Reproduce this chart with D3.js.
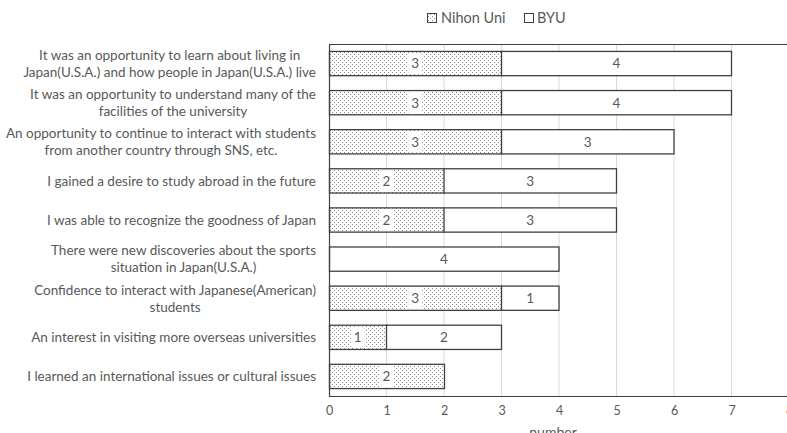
<!DOCTYPE html>
<html>
<head>
<meta charset="utf-8">
<script src="https://cdn.jsdelivr.net/npm/d3@7"></script>
<style>
  html, body { margin: 0; padding: 0; background: #fff; }
  svg { display: block; font-family: Lato, "Open Sans", sans-serif; }
</style>
</head>
<body>
<svg id="chart" width="787" height="433"></svg>
<script>
// Survey items (line breaks mark where each label wraps)
const categories = [
  "It was an opportunity to learn about living in\nJapan(U.S.A.) and how people in Japan(U.S.A.) live",
  "It was an opportunity to understand many of the\nfacilities of the university",
  "An opportunity to continue to interact with students\nfrom another country through SNS, etc.",
  "I gained a desire to study abroad in the future",
  "I was able to recognize the goodness of Japan",
  "There were new discoveries about the sports\nsituation in Japan(U.S.A.)",
  "Confidence to interact with Japanese(American)\nstudents",
  "An interest in visiting more overseas universities",
  "I learned an international issues or cultural issues"
];
const nihonUni = [3, 3, 3, 2, 2, 0, 3, 1, 2];
const byu      = [4, 4, 3, 3, 3, 4, 1, 2, 0];
const seriesNames = ["Nihon Uni", "BYU"];
const xTicks = [0, 1, 2, 3, 4, 5, 6, 7, 8];
const xTitle = "number";

const svg = d3.select("#chart");
const W = 787, H = 433;
const plot = { left: 329, right: 789, top: 44, bottom: 396 };

const textGrey = "#595959";
const edge = "#404040";

// Dotted fill for the Nihon Uni segments
const defs = svg.append("defs");
const pat = defs.append("pattern")
  .attr("id", "dots")
  .attr("patternUnits", "userSpaceOnUse")
  .attr("width", 4).attr("height", 4);
pat.append("rect").attr("width", 4).attr("height", 4).attr("fill", "#fff");
pat.append("rect").attr("x", 0).attr("y", 0).attr("width", 1).attr("height", 1).attr("fill", "#888");
pat.append("rect").attr("x", 2).attr("y", 2).attr("width", 1).attr("height", 1).attr("fill", "#888");

const x = d3.scaleLinear().domain([0, 8]).range([plot.left, plot.right]);
const y = d3.scaleBand().domain(d3.range(categories.length))
  .range([plot.top, plot.bottom]).paddingInner(0.38).paddingOuter(0.19);

// Vertical gridlines
svg.append("g").selectAll("line").data(xTicks.filter(t => t > 0)).join("line")
  .attr("x1", d => x(d)).attr("x2", d => x(d))
  .attr("y1", plot.top).attr("y2", plot.bottom)
  .attr("stroke", "#d9d9d9").attr("stroke-width", 1);

// Stacked data
const rows = categories.map((c, i) => ({ i, a: nihonUni[i], b: byu[i] }));

const bars = svg.append("g");
// Nihon Uni segments
bars.selectAll("rect.n").data(rows.filter(r => r.a > 0)).join("rect")
  .attr("class", "n")
  .attr("x", d => x(0) + 0.5).attr("y", d => y(d.i))
  .attr("width", d => x(d.a) - x(0)).attr("height", y.bandwidth())
  .attr("fill", "url(#dots)").attr("stroke", edge).attr("stroke-width", 1.3);
// BYU segments
bars.selectAll("rect.b").data(rows.filter(r => r.b > 0)).join("rect")
  .attr("class", "b")
  .attr("x", d => x(d.a) + (d.a === 0 ? 0.5 : 0)).attr("y", d => y(d.i))
  .attr("width", d => x(d.a + d.b) - x(d.a) - (d.a === 0 ? 0.5 : 0)).attr("height", y.bandwidth())
  .attr("fill", "#fff").attr("stroke", edge).attr("stroke-width", 1.3);

// Value labels
const lab = svg.append("g").attr("font-size", 13.5).attr("fill", textGrey).attr("text-anchor", "middle");
rows.filter(r => r.a > 0).forEach(r => {
  const cx = (x(0) + x(r.a)) / 2, cy = y(r.i) + y.bandwidth() / 2;
  lab.append("rect").attr("x", cx - 7).attr("y", y(r.i) + 1.5)
    .attr("width", 14).attr("height", y.bandwidth() - 3).attr("fill", "#fff");
  lab.append("text").attr("x", cx).attr("y", cy).attr("dy", "0.36em").text(r.a);
});
rows.filter(r => r.b > 0).forEach(r => {
  const cx = (x(r.a) + x(r.a + r.b)) / 2, cy = y(r.i) + y.bandwidth() / 2;
  lab.append("text").attr("x", cx).attr("y", cy).attr("dy", "0.36em").text(r.b);
});

// Plot frame: top, left and bottom lines
svg.append("line").attr("x1", plot.left).attr("x2", W).attr("y1", plot.top + 0.5).attr("y2", plot.top + 0.5)
  .attr("stroke", edge).attr("stroke-width", 1.2);
svg.append("line").attr("x1", plot.left).attr("x2", W).attr("y1", plot.bottom + 0.5).attr("y2", plot.bottom + 0.5)
  .attr("stroke", edge).attr("stroke-width", 1.2);
svg.append("line").attr("x1", plot.left + 0.5).attr("x2", plot.left + 0.5).attr("y1", plot.top).attr("y2", plot.bottom + 1)
  .attr("stroke", edge).attr("stroke-width", 1.2);

// X axis tick labels
const xAxis = d3.axisBottom(x).tickValues(xTicks).tickSize(0).tickPadding(10);
const gx = svg.append("g").attr("transform", `translate(0,${plot.bottom})`).call(xAxis);
gx.select(".domain").remove();
gx.selectAll("text").attr("fill", textGrey).attr("font-size", 12.5).attr("font-family", "Lato, sans-serif");

svg.append("text").attr("x", (plot.left + plot.right) / 2 - 6).attr("y", 437)
  .attr("text-anchor", "middle").attr("font-size", 14).attr("fill", textGrey).text(xTitle);

// Category labels, centred block right-aligned against the axis
const catG = svg.append("g").attr("font-size", 13.5).attr("fill", textGrey);
categories.forEach((c, i) => {
  const lines = c.split("\n");
  const cy = y(i) + y.bandwidth() / 2;
  const lh = 17;
  const t = catG.append("text").attr("text-anchor", "middle");
  const spans = lines.map((ln, k) => t.append("tspan")
    .attr("y", cy + (k - (lines.length - 1) / 2) * lh).attr("dy", "0.36em").text(ln));
  const maxW = d3.max(spans, s => s.node().getComputedTextLength());
  const cx = 316 - maxW / 2;
  spans.forEach(s => s.attr("x", cx));
});

// Legend
const leg = svg.append("g").attr("font-size", 14.5).attr("fill", textGrey);
leg.append("rect").attr("x", 427.5).attr("y", 13.5).attr("width", 9).attr("height", 9)
  .attr("fill", "url(#dots)").attr("stroke", edge).attr("stroke-width", 1);
leg.append("text").attr("x", 441).attr("y", 18).attr("dy", "0.36em").text(seriesNames[0]);
leg.append("rect").attr("x", 524.5).attr("y", 13.5).attr("width", 9).attr("height", 9)
  .attr("fill", "#fff").attr("stroke", edge).attr("stroke-width", 1);
leg.append("text").attr("x", 537).attr("y", 18).attr("dy", "0.36em").text(seriesNames[1]);
</script>
</body>
</html>
